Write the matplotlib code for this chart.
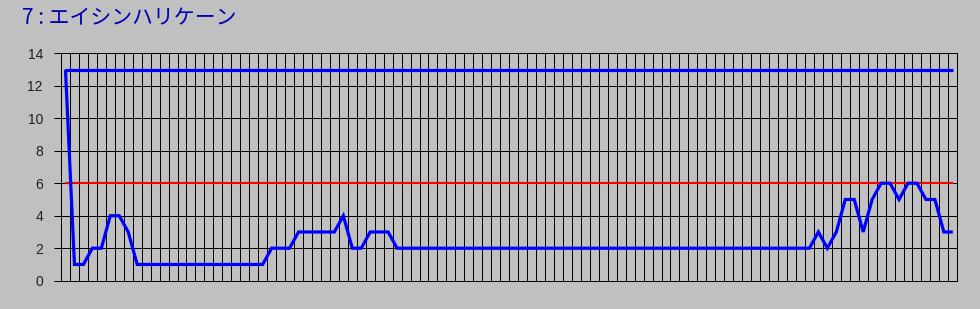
import matplotlib
matplotlib.use("Agg")
import matplotlib.pyplot as plt
import numpy as np

title = "7 : エイシンハリケーン"

# Main series (one value per category)
positions = [
    13, 1, 1, 2, 2, 4, 4, 3,
    1, 1, 1, 1, 1, 1, 1, 1, 1, 1, 1, 1, 1, 1, 1,
    2, 2, 2,
    3, 3, 3, 3, 3,
    4, 2, 2,
    3, 3, 3,
    2, 2, 2, 2, 2, 2, 2, 2, 2, 2, 2, 2, 2, 2, 2, 2, 2, 2, 2, 2, 2, 2, 2,
    2, 2, 2, 2, 2, 2, 2, 2, 2, 2, 2, 2, 2, 2, 2, 2, 2, 2, 2, 2, 2, 2, 2, 2,
    3, 2, 3, 5, 5, 3, 5, 6, 6, 5, 6, 6, 5, 5, 3, 3,
]
field_size = 13      # constant upper line
reference_level = 6  # red reference line
y_ticks = [0, 2, 4, 6, 8, 10, 12, 14]

n = len(positions)
x = np.arange(n)

fig = plt.figure(figsize=(9.8, 3.09), dpi=100, facecolor="#c0c0c0")
ax = fig.add_axes([61 / 980, 1 - 280.7 / 309, (957.3 - 61) / 980, (280.7 - 53.3) / 309])
ax.set_facecolor("#c0c0c0")

ax.set_xlim(-0.5, n - 0.5)
ax.set_ylim(0, 14)

# grid lines at category boundaries and at y ticks
for b in np.arange(-0.5, n, 1.0):
    ax.axvline(b, color="black", lw=0.72, antialiased=False, zorder=1)
for t in y_ticks:
    ax.axhline(t, color="black", lw=0.72, antialiased=False, zorder=1)

ax.plot(x, [reference_level] * n, color="#ff0000", lw=1.5, zorder=3,
        solid_capstyle="butt")
ax.plot(x, [field_size] * n, color="#0000ff", lw=2.3, zorder=4,
        solid_capstyle="butt")
ax.plot(x, positions, color="#0000ff", lw=2.3, zorder=5,
        solid_joinstyle="miter", solid_capstyle="butt")

ax.set_xticks([])
ax.set_yticks(y_ticks)
ax.set_yticklabels([str(t) for t in y_ticks], family="Liberation Sans",
                   fontsize=10, color="#202020")
ax.tick_params(axis="y", length=5, width=0.72, color="black", pad=8)
for s in ax.spines.values():
    s.set_color("black")
    s.set_linewidth(0.72)

fig.text(22 / 980, 1 - 18 / 309, title, family=["Noto Sans CJK JP", "DejaVu Sans"],
         fontsize=15, color="#0000b0", va="center", ha="left")

fig.savefig("out.png", dpi=100, facecolor=fig.get_facecolor())
